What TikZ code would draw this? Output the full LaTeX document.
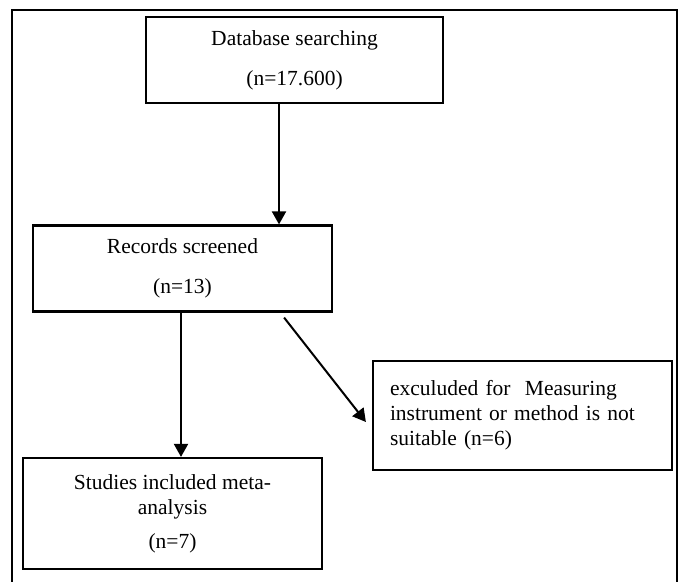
\documentclass[tikz,border=0pt]{standalone}
\usepackage{fontspec}
\setmainfont{Liberation Serif}
\usetikzlibrary{arrows.meta}
\tikzset{
  fbox/.style = {draw=black, line width=2.2pt, align=center, inner sep=0pt, font=\fontsize{21.5pt}{25pt}\selectfont},
  fnote/.style = {fbox, align=left, inner xsep=17pt, text width=265pt},
  farrow/.style = {line width=2pt, -{Triangle[length=13pt,width=14pt]}},
  outline/.style = {line width=2.6pt},
}
\begin{document}
\begin{tikzpicture}[x=1pt, y=-1pt]
\useasboundingbox (0,0) rectangle (684,581);
% page frame, open at the bottom
\draw [outline] (12,584) -- (12,10) -- (677,10) -- (677,584);
\node [fbox, minimum width=297pt, minimum height=86pt] (db) at (294.5,60) {Database searching\\[15pt](n=17.600)};
\node [fbox, minimum width=299pt, minimum height=86pt] (rec) at (182.5,268.5) {Records screened\\[15pt](n=13)};
\node [fnote, minimum height=109pt] (excl) at (522.5,415.5) {exculuded for \ Measuring\\instrument or method is not\\suitable (n=6)};
\node [fbox, minimum width=299pt, minimum height=111pt] (inc) at (172.5,513.5) {Studies included meta-\\analysis\\[9pt](n=7)};
\draw [farrow] ([xshift=-15.5pt]db.south) -- ([xshift=-15.5pt]db.south |- rec.north);
\draw [farrow] ([xshift=-1.5pt]rec.south) -- ([xshift=-1.5pt]rec.south |- inc.north);
\draw [farrow] ([shift={(-49,5)}]rec.south east) -- ([shift={(-6,6.5)}]excl.west);
\end{tikzpicture}
\end{document}
